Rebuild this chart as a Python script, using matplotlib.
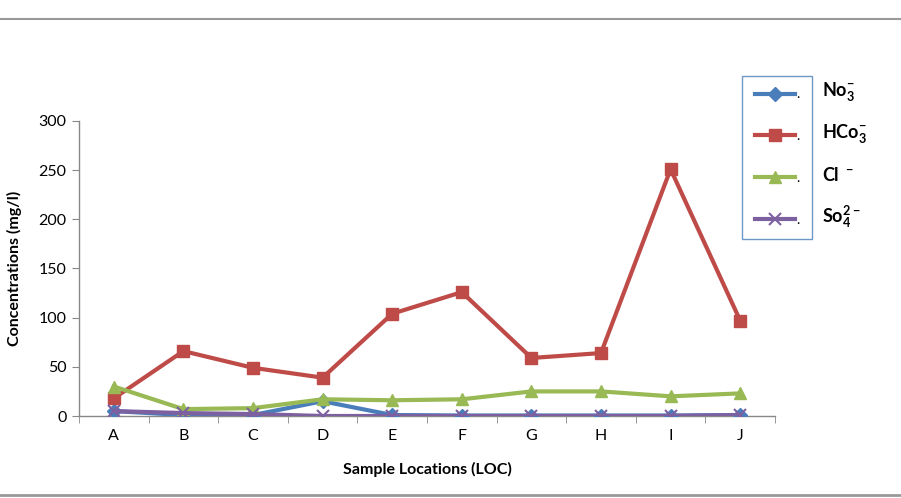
import matplotlib
matplotlib.use("Agg")
import matplotlib.pyplot as plt
from matplotlib.lines import Line2D

plt.rcParams['font.family'] = ['Lato', 'DejaVu Sans']
plt.rcParams['mathtext.fontset'] = 'custom'
plt.rcParams['mathtext.rm'] = 'Lato'
plt.rcParams['mathtext.bf'] = 'Lato:bold'

locations = ['A', 'B', 'C', 'D', 'E', 'F', 'G', 'H', 'I', 'J']
no3 = [5, 1, 1, 15, 1, 0.5, 0.5, 0.5, 0.5, 1]
hco3 = [18, 66, 49, 39, 104, 126, 59, 64, 251, 97]
cl = [30, 7, 8, 17, 16, 17, 25, 25, 20, 23]
so4 = [5, 3, 2, 0, 0, 0, 0, 0, 0, 1]

names = [r'$\mathbf{No_3^{-}}$', r'$\mathbf{HCo_3^{-}}$', r'$\mathbf{Cl^{\ -}}$', r'$\mathbf{So_4^{2-}}$']

fig = plt.figure(figsize=(9.01, 4.98), dpi=100)
ax = fig.add_axes([79 / 901, 1 - 416 / 498, (775 - 79) / 901, (416 - 121) / 498])

x = range(len(locations))
series = [
    (no3, '#4A7EBB', 'D', 7),
    (hco3, '#BE4B48', 's', 8),
    (cl, '#98B954', '^', 9),
    (so4, '#7D60A0', 'x', 9),
]
handles = []
for vals, col, mk, ms in series:
    h, = ax.plot(x, vals, color=col, lw=3, marker=mk, markersize=ms,
                 markeredgewidth=1.5 if mk == 'x' else 1, markeredgecolor=col, zorder=3)
    handles.append(h)

ax.set_xlim(-0.5, len(locations) - 0.5)
ax.set_ylim(0, 300)
ax.set_yticks(range(0, 301, 50))
ax.set_xticks(x)
ax.set_xticklabels(locations)
ax.set_xticks([i - 0.5 for i in range(len(locations) + 1)], minor=True)
ax.tick_params(axis='x', which='major', length=0, pad=9, labelsize=11.5)
ax.tick_params(axis='x', which='minor', length=5, color='#888888', direction='out')
ax.tick_params(axis='y', length=5, color='#888888', labelsize=11.5, pad=4)
for s in ['top', 'right']:
    ax.spines[s].set_visible(False)
for s in ['left', 'bottom']:
    ax.spines[s].set_color('#888888')
    ax.spines[s].set_linewidth(1)

ax.set_xlabel('Sample Locations (LOC)', fontweight='bold', fontsize=11.5, labelpad=14)
ax.set_ylabel('Concentrations (mg/l)', fontweight='bold', fontsize=11.5, labelpad=12)

# legend box holds only the line samples; the ion names sit outside it
leg = fig.legend(handles, ['.'] * 4, loc='upper left',
                 bbox_to_anchor=(742 / 901, 1 - 76 / 498), bbox_transform=fig.transFigure,
                 frameon=True, fancybox=False, fontsize=10, handlelength=2.9,
                 labelspacing=2.15, borderpad=0.9, handletextpad=0.1, borderaxespad=0)
leg.get_frame().set_edgecolor('#4A7EBB')
leg.get_frame().set_linewidth(1)

fig.canvas.draw()
renderer = fig.canvas.get_renderer()
inv = fig.transFigure.inverted()
for t, name in zip(leg.get_texts(), names):
    bb = t.get_window_extent(renderer)
    yc = (bb.y0 + bb.y1) / 2
    fx, fy = inv.transform((0, yc + 3))
    fig.text(822 / 901, fy, name, fontsize=13, va='center', ha='left')

fig.add_artist(Line2D([0, 1], [1 - 19 / 498, 1 - 19 / 498], transform=fig.transFigure,
                      color='#999999', lw=1.5))
fig.add_artist(Line2D([0, 1], [1 - 495 / 498, 1 - 495 / 498], transform=fig.transFigure,
                      color='#999999', lw=2))

fig.savefig('out.png', dpi=100)
